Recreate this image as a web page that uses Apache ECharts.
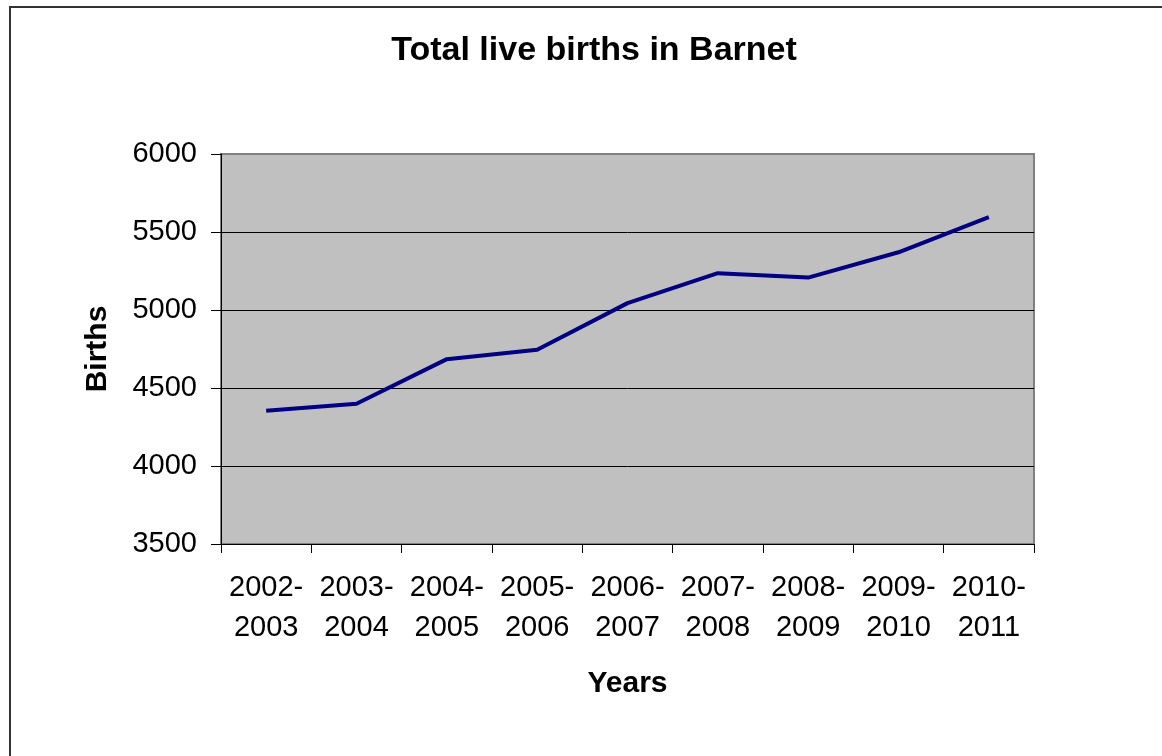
<!DOCTYPE html>
<html>
<head>
<meta charset="utf-8">
<script src="https://cdn.jsdelivr.net/npm/echarts@6/dist/echarts.min.js"></script>
<style>
html,body{margin:0;padding:0;background:#fff;}
#chart{width:1162px;height:756px;}
</style>
</head>
<body>
<div id="chart"></div>
<script>
const titleText = 'Total live births in Barnet';
const categories = ['2002-\n2003','2003-\n2004','2004-\n2005','2005-\n2006','2006-\n2007','2007-\n2008','2008-\n2009','2009-\n2010','2010-\n2011'];
const births = [4354, 4399, 4685, 4745, 5044, 5236, 5208, 5370, 5595];
const yTicks = { min: 3500, max: 6000, interval: 500 };

const FONT = '"Liberation Sans", Arial, sans-serif';
const chart = echarts.init(document.getElementById('chart'), null, {renderer: 'canvas'});
chart.setOption({
  animation: false,
  backgroundColor: '#ffffff',
  graphic: [
    {type: 'rect', shape: {x: 10, y: 7, width: 1200, height: 800}, style: {fill: 'none', stroke: '#333333', lineWidth: 2}, silent: true, z: -10},
    {type: 'text', x: 594, y: 51, style: {text: titleText, font: 'bold 34px ' + FONT, fill: '#000', textAlign: 'center', textVerticalAlign: 'middle'}}
  ],
  grid: {
    left: 221, top: 154, right: 128, bottom: 212,
    show: true, backgroundColor: '#C0C0C0', borderColor: '#808080', borderWidth: 2
  },
  xAxis: {
    type: 'category',
    data: categories,
    boundaryGap: true,
    name: 'Years',
    nameLocation: 'middle',
    nameGap: 125,
    nameTextStyle: {fontFamily: FONT, fontSize: 30, fontWeight: 'bold', color: '#000'},
    axisLine: {lineStyle: {color: '#000', width: 1}},
    axisTick: {show: true, length: 9, lineStyle: {color: '#000'}},
    axisLabel: {fontFamily: FONT, fontSize: 29, color: '#000', lineHeight: 40, margin: 24, interval: 0},
    splitLine: {show: false}
  },
  yAxis: {
    type: 'value',
    min: yTicks.min, max: yTicks.max, interval: yTicks.interval,
    name: 'Births',
    nameLocation: 'middle',
    nameGap: 108,
    nameTextStyle: {fontFamily: FONT, fontSize: 30, fontWeight: 'bold', color: '#000'},
    axisLine: {show: true, lineStyle: {color: '#000', width: 1}},
    axisTick: {show: true, length: 10, lineStyle: {color: '#000'}},
    axisLabel: {fontFamily: FONT, fontSize: 29, color: '#000', margin: 24, formatter: v => String(v)},
    splitLine: {show: true, lineStyle: {color: ['#000', '#000', '#000', '#000', '#000', '#808080'], width: 1}}
  },
  series: [{
    type: 'line',
    data: births,
    symbol: 'none',
    lineStyle: {color: '#000080', width: 4},
    itemStyle: {color: '#000080'}
  }]
});
</script>
</body>
</html>
